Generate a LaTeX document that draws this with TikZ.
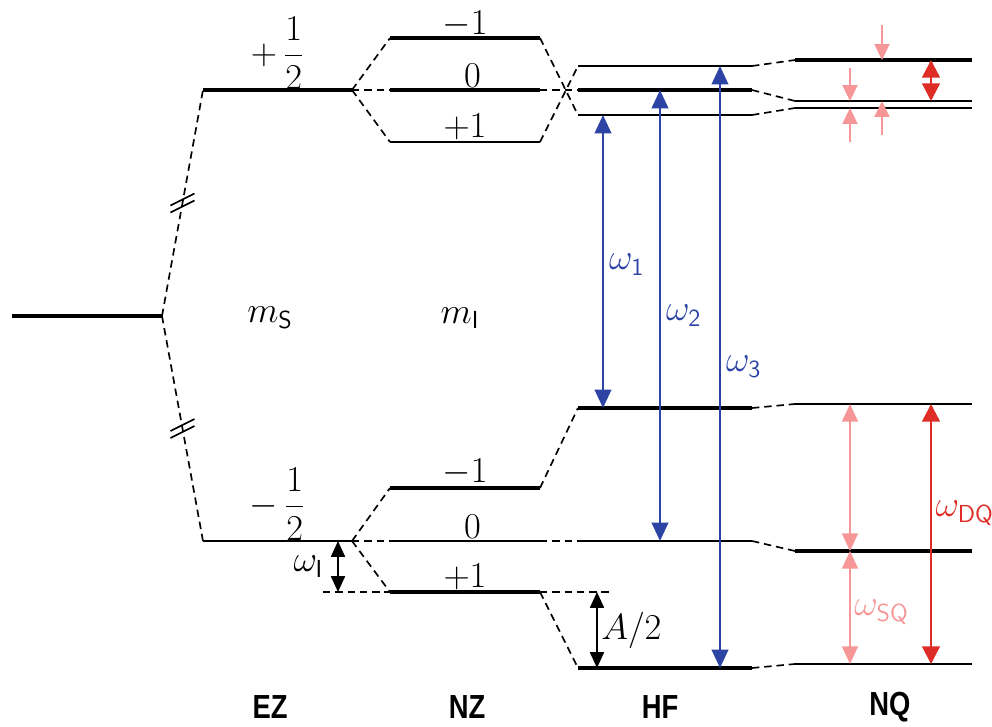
\documentclass[tikz,border=0pt]{standalone}
\usepackage{fontspec}
\newfontfamily\bandfont[FakeStretch=0.82]{Liberation Sans}
\usetikzlibrary{arrows.meta, calc}

\definecolor{hfblue}{RGB}{45,68,165}
\definecolor{dqred}{RGB}{222,45,38}
\definecolor{sqpink}{RGB}{246,150,150}

\begin{document}
\begin{tikzpicture}[
    x=0.02cm, y=-0.02cm,
    level/.style={line width=2pt},
    thinlevel/.style={line width=1.3pt},
    link/.style={line width=0.95pt, dash pattern=on 4.2pt off 2.8pt},
    brk/.style={line width=1pt},
    gaparrow/.style={{Triangle[length=9pt,width=8pt]}-{Triangle[length=9pt,width=8pt]}, line width=0.9pt},
    hfarrow/.style={{Triangle[length=10.5pt,width=9.5pt]}-{Triangle[length=10.5pt,width=9.5pt]}, line width=1.1pt, hfblue},
    dqarrow/.style={{Triangle[length=10pt,width=10pt]}-{Triangle[length=10pt,width=10pt]}, line width=1.3pt, dqred},
    sqarrow/.style={{Triangle[length=10pt,width=9pt]}-{Triangle[length=10pt,width=9pt]}, line width=1.1pt, sqpink},
    sqtip/.style={-{Triangle[length=9pt,width=8.5pt]}, line width=1.1pt, sqpink},
    lbl/.style={font=\fontsize{20}{24}\selectfont, inner sep=2pt},
    band/.style={font=\bandfont\bfseries\fontsize{19}{22}\selectfont}
]
\useasboundingbox (0,0) rectangle (992,727);

% unsplit level
\coordinate (g0) at (12,316);
\coordinate (g1) at (162,316);
\draw[level] (g0) -- (g1);

% levels: name / left x / right x / y / style
\foreach \n/\xa/\xb/\y/\w in {
    ezu/203/352/90/level, ezd/203/352/541/thinlevel,
    nza/390/540/38/level, nzb/390/540/90/level, nzc/390/540/142/thinlevel,
    nzd/390/540/488/level, nze/390/540/541/thinlevel, nzf/390/540/592/level,
    hfa/578/752/66/thinlevel, hfb/578/752/90/level, hfc/578/752/115/thinlevel,
    hfd/578/752/408/level, hfe/578/752/541/thinlevel, hff/578/752/668/level,
    nqa/795/972/60/level, nqb/795/972/101/thinlevel, nqc/795/972/108/thinlevel,
    nqd/795/972/404/thinlevel, nqe/795/972/551/level, nqf/795/972/664/thinlevel}
{
    \coordinate (\n-l) at (\xa,\y);
    \coordinate (\n-r) at (\xb,\y);
    \draw[\w] (\n-l) -- (\n-r);
}

% dashed links between the stages
\draw[link] (g1) -- (ezu-l);
\draw[link] (g1) -- (ezd-l);
\foreach \a in {nza,nzb,nzc} \draw[link] (ezu-r) -- (\a-l);
\foreach \a in {nzd,nze,nzf} \draw[link] (ezd-r) -- (\a-l);
\foreach \a/\b in {nza/hfc, nzb/hfb, nzc/hfa, nzd/hfd, nze/hfe, nzf/hff}
    \draw[link] (\a-r) -- (\b-l);
\foreach \a/\b in {hfa/nqa, hfb/nqb, hfc/nqc, hfd/nqd, hfe/nqe, hff/nqf}
    \draw[link] (\a-r) -- (\b-l);

% axis breaks
\path (g1) -- (ezu-l) coordinate[pos=0.5] (brk1);
\path (g1) -- (ezd-l) coordinate[pos=0.5] (brk2);
\foreach \b in {brk1,brk2}
    \foreach \d in {-3.5,3.5}
        \draw[brk] ($(\b)+(-12,\d+6)$) -- ($(\b)+(12,\d-6)$);

% level labels
\path (ezu-l) -- (ezu-r) node[lbl, midway, above, inner sep=0pt] (lezu) {$+\,{\displaystyle\frac{1}{2}}$};
\path (ezd-l) -- (ezd-r) node[lbl, midway, above, inner sep=0pt] (lezd) {$-\,{\displaystyle\frac{1}{2}}$};
\path (nza-l) -- (nza-r) node[lbl, midway, above, inner sep=0pt] (lnza) {$-1$};
\path (nzb-l) -- (nzb-r) node[lbl, pos=0.55, above, inner sep=1pt] (lnzb) {$0$};
\path (nzc-l) -- (nzc-r) node[lbl, midway, above, inner sep=1pt] (lnzc) {$+1$};
\path (nzd-l) -- (nzd-r) node[lbl, midway, above, inner sep=1pt] (lnzd) {$-1$};
\path (nze-l) -- (nze-r) node[lbl, pos=0.55, above, inner sep=1pt] (lnze) {$0$};
\path (nzf-l) -- (nzf-r) node[lbl, midway, above, inner sep=1pt] (lnzf) {$+1$};

\node[lbl] (ms) at (270,318) {$m_{\mathsf{S}}$};
\node[lbl] (mi) at (460,318) {$m_{\mathsf{I}}$};

% nuclear Zeeman gap
\coordinate (wi-aux) at ($(nzf-l)+(-67,0)$);
\draw[link] (wi-aux) -- (nzf-l);
\draw[gaparrow] ($(ezd-l)+(135,0)$) -- ($(nzf-l)+(-52,0)$)
    node[lbl, midway, left=6pt] (wi) {$\omega_{\mathsf{I}}$};

% hyperfine gap
\coordinate (a-aux) at ($(nzf-r)+(72,0)$);
\draw[link] (nzf-r) -- (a-aux);
\draw[gaparrow] ($(nzf-r)+(57,0)$) -- ($(hff-l)+(19,0)$)
    node[lbl, midway, right=0pt] (ahalf) {$A/2$};

% hyperfine transitions
\draw[hfarrow] ($(hfc-l)+(25,0)$) -- ($(hfd-l)+(25,0)$)
    node[lbl, pos=0.51, right=1pt, text=hfblue] (w1) {$\omega_{\mathsf{1}}$};
\draw[hfarrow] ($(hfb-l)+(82,0)$) -- ($(hfe-l)+(82,0)$)
    node[lbl, pos=0.5, right=1pt, text=hfblue] (w2) {$\omega_{\mathsf{2}}$};
\draw[hfarrow] ($(hfa-l)+(142,0)$) -- ($(hff-l)+(142,0)$)
    node[lbl, pos=0.5, right=1pt, text=hfblue] (w3) {$\omega_{\mathsf{3}}$};

% quadrupole transitions
\draw[dqarrow] ($(nqa-l)+(136,0)$) -- ($(nqb-l)+(136,0)$);
\draw[dqarrow] ($(nqd-l)+(136,0)$) -- ($(nqf-l)+(136,0)$)
    node[lbl, pos=0.42, right=0pt, text=dqred] (wdq) {$\omega_{\mathsf{DQ}}$};
\draw[sqarrow] ($(nqd-l)+(55,0)$) -- ($(nqe-l)+(55,0)$);
\draw[sqarrow] ($(nqe-l)+(55,0)$) -- ($(nqf-l)+(55,0)$)
    node[lbl, pos=0.54, right=0pt, text=sqpink] (wsq) {$\omega_{\mathsf{SQ}}$};
\draw[sqtip] ($(nqa-l)+(87,-35)$) -- ($(nqa-l)+(87,0)$);
\draw[sqtip] ($(nqb-l)+(55,-33)$) -- ($(nqb-l)+(55,0)$);
\draw[sqtip] ($(nqc-l)+(55,34)$) -- ($(nqc-l)+(55,0)$);
\draw[sqtip] ($(nqc-l)+(87,27)$) -- ($(nqb-l)+(87,0)$);

% stage names
\node[band] (ez) at (270,707) {EZ};
\node[band] (nz) at (467,707) {NZ};
\node[band] (hf) at (660,707) {HF};
\node[band] (nq) at (890,707) {NQ};

\end{tikzpicture}
\end{document}
